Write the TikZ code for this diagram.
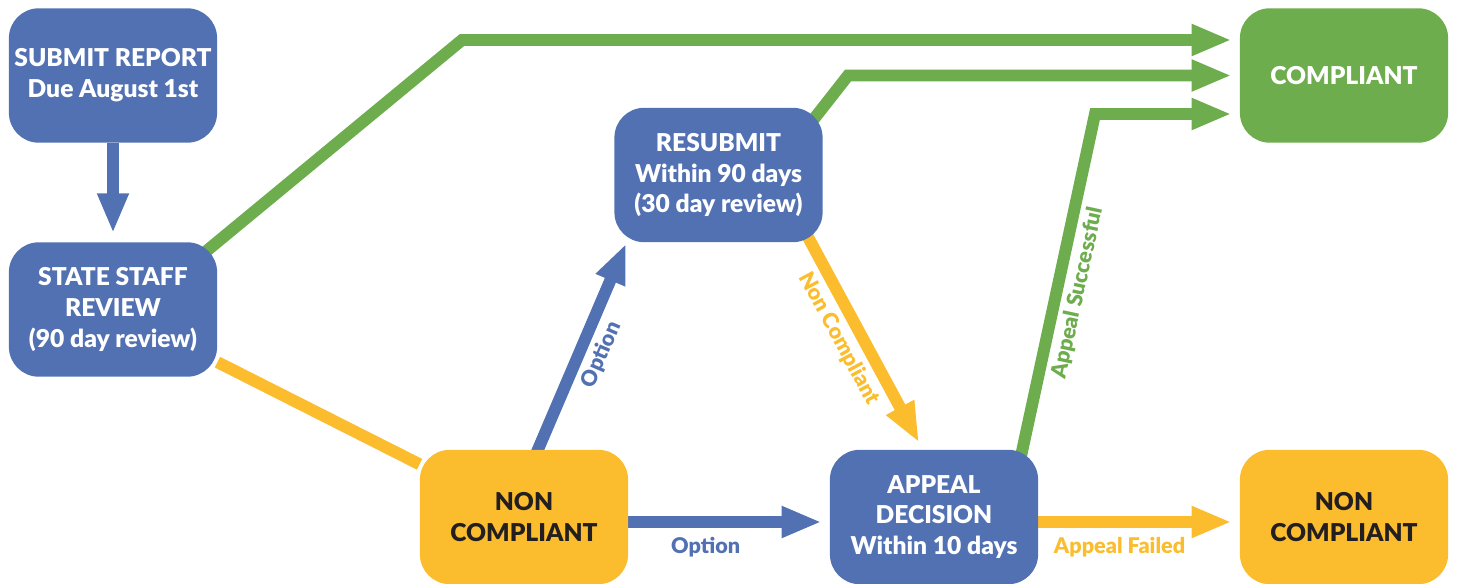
\documentclass[tikz,border=0pt]{standalone}
\usepackage{fontspec}
\setmainfont{Lato}[BoldFont={Lato Black}]
\usetikzlibrary{arrows.meta,calc,backgrounds}
\definecolor{flowblue}{RGB}{81,113,178}
\definecolor{flowgreen}{RGB}{109,173,77}
\definecolor{flowyellow}{RGB}{251,189,46}
\definecolor{flowdark}{RGB}{35,31,32}
\tikzset{
  box/.style={rounded corners=17pt, minimum width=118.5pt, minimum height=76.5pt,
    inner sep=0pt, align=center, font=\fontsize{14}{17.6}\selectfont\bfseries},
  bluebox/.style={box, fill=flowblue, text=white},
  greenbox/.style={box, fill=flowgreen, text=white},
  yellowbox/.style={box, fill=flowyellow, text=flowdark},
  link/.style={line width=6.8pt},
  arrow/.style={link, -{Triangle[length=22.7pt,width=16.6pt]}},
  lab/.style={font=\fontsize{12.3}{14}\selectfont\bfseries, inner sep=3pt}
}
\begin{document}
\begin{tikzpicture}[x=0.02cm, y=-0.02cm]
    \useasboundingbox (0,0) rectangle (1457,584);
    % Nodes
    \node[bluebox] at (113,75.5) (submit) {SUBMIT REPORT\\Due August 1st};
    \node[bluebox] at (113,309.5) (state) {STATE STAFF\\REVIEW\\(90 day review)};
    \node[bluebox] at (718.5,175) (resub) {RESUBMIT\\Within 90 days\\(30 day review)};
    \node[yellowbox] at (524,517) (nc1) {NON\\COMPLIANT};
    \node[bluebox] at (934,517) (appeal) {APPEAL\\DECISION\\Within 10 days};
    \node[greenbox] at (1344,75.5) (comp) {COMPLIANT};
    \node[yellowbox] at (1344,517) (nc2) {NON\\COMPLIANT};

    % Bends
    \coordinate (bendA) at (462,40);
    \coordinate (bendB) at (848,75.5);
    \coordinate (bendC) at (1095,114);

    % Arrows and labels
    \draw[arrow, flowblue, shorten >=5pt] (submit) -- (state);
    \begin{pgfonlayer}{background}
    \draw[link, flowyellow] (state) -- (nc1);
    \draw[arrow, flowgreen, shorten <=-12pt] (state.north east) -- (bendA)
        -- ($(comp.west)+(-8,-35.5)$);
    \draw[arrow, flowgreen, shorten <=-12pt] (resub.north east) -- (bendB)
        -- ($(comp.west)+(-8,0)$);
    \draw[arrow, flowgreen, shorten <=-12pt] ($(appeal.north east)+(-16,0)$) -- (bendC)
        node[pos=0.48, below, sloped, lab, text=flowgreen] {Appeal Successful}
        -- ($(comp.west)+(-8,38.5)$);
    \draw[arrow, flowblue, shorten <=-12pt] ($(nc1.north)+(14,0)$)
        -- ($(resub.south west)+(12,1)$)
        node[midway, below, sloped, lab, text=flowblue] {Option};
    \draw[arrow, flowyellow, shorten <=-12pt] ($(resub.south east)+(-12,0)$)
        -- ($(appeal.north)+(-15,-7)$)
        node[pos=0.43, below, sloped, lab, text=flowyellow] {Non Compliant};
    \draw[arrow, flowblue] ($(nc1.east)+(0,5)$) -- ($(appeal.west)+(-8,5)$)
        node[pos=0.4, below=2pt, lab, text=flowblue] {Option};
    \draw[arrow, flowyellow] ($(appeal.east)+(0,5)$) -- ($(nc2.west)+(-8,5)$)
        node[pos=0.42, below=2pt, lab, text=flowyellow] {Appeal Failed};
    \end{pgfonlayer}
\end{tikzpicture}
\end{document}
